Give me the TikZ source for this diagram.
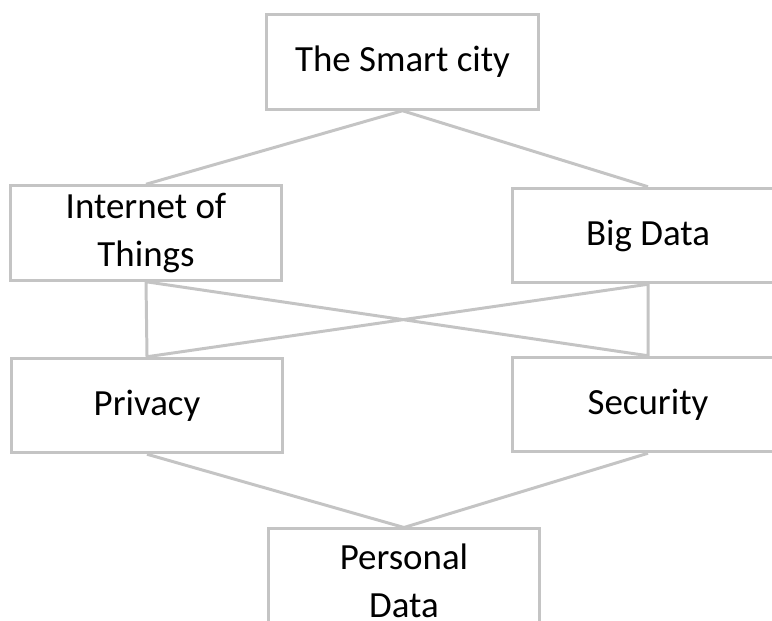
\documentclass[tikz,border=0pt]{standalone}
\usepackage{fontspec}
\setmainfont{Carlito}
\usepackage{tikz}
\usetikzlibrary{positioning}
\definecolor{linegray}{HTML}{C4C4C4}

\begin{document}
\begin{tikzpicture}[every node/.style={rectangle,draw=linegray,line width=1.7pt,minimum width=5.43cm,minimum height=1.89cm,
  inner sep=0pt,align=center,font=\fontsize{21}{27.5}\selectfont},
  e/.style={draw=linegray,line width=1.7pt}]
  \useasboundingbox (0,0) rectangle (15.44,12.42);
  \node (city) at (8.05,11.18) {The Smart city};
  \node (iot) at (2.92,7.76) {Internet of\\Things}; \node (bd) at (12.96,7.71) {Big Data};
  \node (priv) at (2.94,4.31) {Privacy}; \node (sec) at (12.96,4.33) {Security};
  \node[minimum height=2.08cm] (pd) at (8.08,0.80) {Personal\\Data};
  \draw[e] (iot.north)--(city.south)--(bd.north);
  \draw[e] (iot.south)--(priv.north)--(bd.south)--(sec.north)--(iot.south);
  \draw[e] (priv.south)--(pd.north)--(sec.south);
\end{tikzpicture}
\end{document}
